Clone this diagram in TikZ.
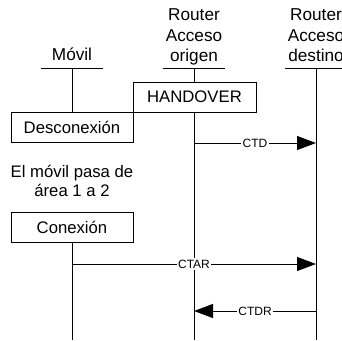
\documentclass[tikz,border=0pt]{standalone}
\usepackage{fontspec}
\setmainfont{Liberation Sans}
\usepackage{tikz}
\usetikzlibrary{shapes,arrows,arrows.meta}

\tikzset{
	box/.style={draw, line width=0.9pt, minimum width=122pt, minimum height=30pt, inner sep=0pt, font=\fontsize{16.7}{20}\selectfont},
	head/.style={anchor=south, inner sep=0pt, align=center, text depth=0pt, font=\fontsize{17.2}{20.5}\selectfont},
	msg/.style={line width=0.9pt, -{Triangle[length=19pt,width=14pt]}},
	lbl/.style={fill=white, inner sep=1.5pt, font=\fontsize{12}{14}\selectfont},
}

\begin{document}
\begin{tikzpicture}[x=1pt,y=-1pt,line width=0.9pt]
		\useasboundingbox (0,0) rectangle (342,340);
		\clip (0,0) rectangle (342,340);
		\node[head] (movil) at (72,61) {Móvil};
		\node[head] (origen) at (194,62) {Router\\Acceso\\origen};
		\node[head] (destino) at (316,62) {Router\\Acceso\\destino};
		\coordinate (mvtop) at (72,68);
		\coordinate (ogtop) at (194,68);
		\coordinate (dstop) at (316,68);
		\coordinate (mvend) at (72,340);
		\coordinate (ogend) at (194,340);
		\coordinate (dsend) at (316,340);
		\draw ([xshift=-31pt]mvtop) -- ([xshift=31pt]mvtop);
		\draw ([xshift=-31pt]ogtop) -- ([xshift=31pt]ogtop);
		\draw ([xshift=-31pt]dstop) -- ([xshift=31pt]dstop);
		\node[box, minimum width=123pt] (handover) at (194.5,97) {HANDOVER};
		\node[box] (desconexion) at (72,127) {Desconexión};
		\node[align=center, font=\fontsize{16.7}{19.5}\selectfont] (pasa) at (72,181) {El móvil pasa de\\área 1 a 2};
		\node[box] (conexion) at (72,227) {Conexión};
		\draw (mvtop) -- (desconexion.north);
		\draw (conexion.south) -- (mvend);
		\draw (ogtop) -- (ogtop |- handover.north);
		\draw (ogtop |- handover.south) -- (ogend);
		\draw (dstop) -- (dsend);
		\coordinate (ctdA) at (194,143);
		\coordinate (ctdB) at (316,143);
		\coordinate (ctarA) at (72,264);
		\coordinate (ctarB) at (316,264);
		\coordinate (ctdrA) at (316,311);
		\coordinate (ctdrB) at (194,311);
		\draw[msg] (ctdA) -- node[lbl] {CTD} (ctdB);
		\draw[msg] (ctarA) -- node[lbl] {CTAR} (ctarB);
		\draw[msg] (ctdrA) -- node[lbl] {CTDR} (ctdrB);
\end{tikzpicture}
\end{document}
